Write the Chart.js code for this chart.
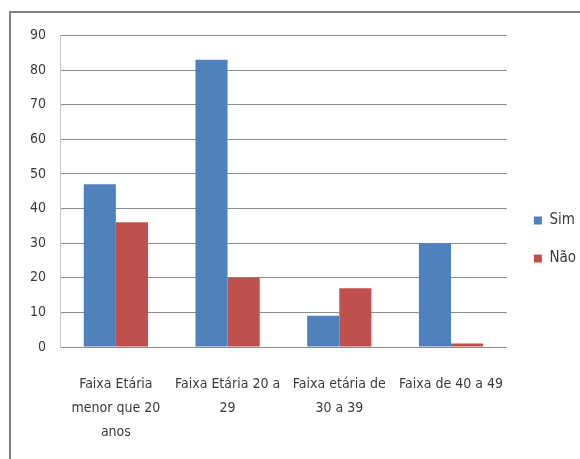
<!DOCTYPE html>
<html>
<head>
<meta charset="utf-8">
<script src="https://cdn.jsdelivr.net/npm/chart.js@4/dist/chart.umd.min.js"></script>
<style>
  html, body { margin: 0; padding: 0; background: #fff; overflow: hidden; }
  #frame {
    position: absolute; left: 9px; top: 11px; width: 600px; height: 480px;
    border-left: 2px solid #808080; border-top: 2px solid #808080;
  }
  #chart { position: absolute; left: 11px; top: 13px; }
</style>
</head>
<body>
<div id="frame"></div>
<canvas id="chart" width="571" height="446"></canvas>
<script>
// Age groups (multi-line tick labels)
const categories = [
  ['Faixa Etária', 'menor que 20', 'anos'],
  ['Faixa Etária 20 a', '29'],
  ['Faixa etária de', '30 a 39'],
  ['Faixa de 40 a 49']
];
const seriesNames = ['Sim', 'Não'];
const simValues = [47, 83, 9, 30];
const naoValues = [36, 20, 17, 1];
const yTicks = [0, 10, 20, 30, 40, 50, 60, 70, 80, 90];

const FONT = "'Liberation Sans Narrow', 'DejaVu Sans Condensed', 'Arial Narrow', sans-serif";
const TEXT = '#3a3a3a';
const GRID = '#8c8c8c';

// Nudge the legend a little away from the plot area
const legendShift = {
  id: 'legendShift',
  afterLayout(chart) {
    if (chart.legend) { chart.legend.left += 4; chart.legend.right += 4; }
  }
};

new Chart(document.getElementById('chart'), {
  type: 'bar',
  data: {
    labels: categories,
    datasets: [
      { label: seriesNames[0], data: simValues, backgroundColor: '#4F81BD' },
      { label: seriesNames[1], data: naoValues, backgroundColor: '#C0504D' }
    ]
  },
  plugins: [legendShift],
  options: {
    responsive: false,
    devicePixelRatio: 1,
    animation: false,
    layout: { padding: { left: 0, top: 22, right: 0, bottom: 15 } },
    datasets: { bar: { barPercentage: 1, categoryPercentage: 0.575 } },
    plugins: {
      tooltip: { enabled: false },
      legend: {
        position: 'right',
        align: 'center',
        labels: {
          boxWidth: 8, boxHeight: 8, padding: 23, color: TEXT,
          font: { family: FONT, size: 15 }
        }
      }
    },
    scales: {
      x: {
        afterFit: (scale) => { scale.height = 97; },
        grid: { display: false, drawTicks: false },
        border: { display: true, color: GRID, width: 1 },
        ticks: {
          color: TEXT, padding: 25, maxRotation: 0, autoSkip: false,
          font: { family: FONT, size: 14, lineHeight: 24 / 14 }
        }
      },
      y: {
        min: 0, max: 90,
        afterBuildTicks: (scale) => { scale.ticks = yTicks.map(v => ({ value: v })); },
        afterFit: (scale) => { scale.width = 49; },
        grid: { color: GRID, lineWidth: 1, drawTicks: false },
        border: { display: true, color: '#c8c8c8', width: 1 },
        ticks: {
          color: TEXT, padding: 14,
          font: { family: FONT, size: 14 }
        }
      }
    }
  }
});
</script>
</body>
</html>
